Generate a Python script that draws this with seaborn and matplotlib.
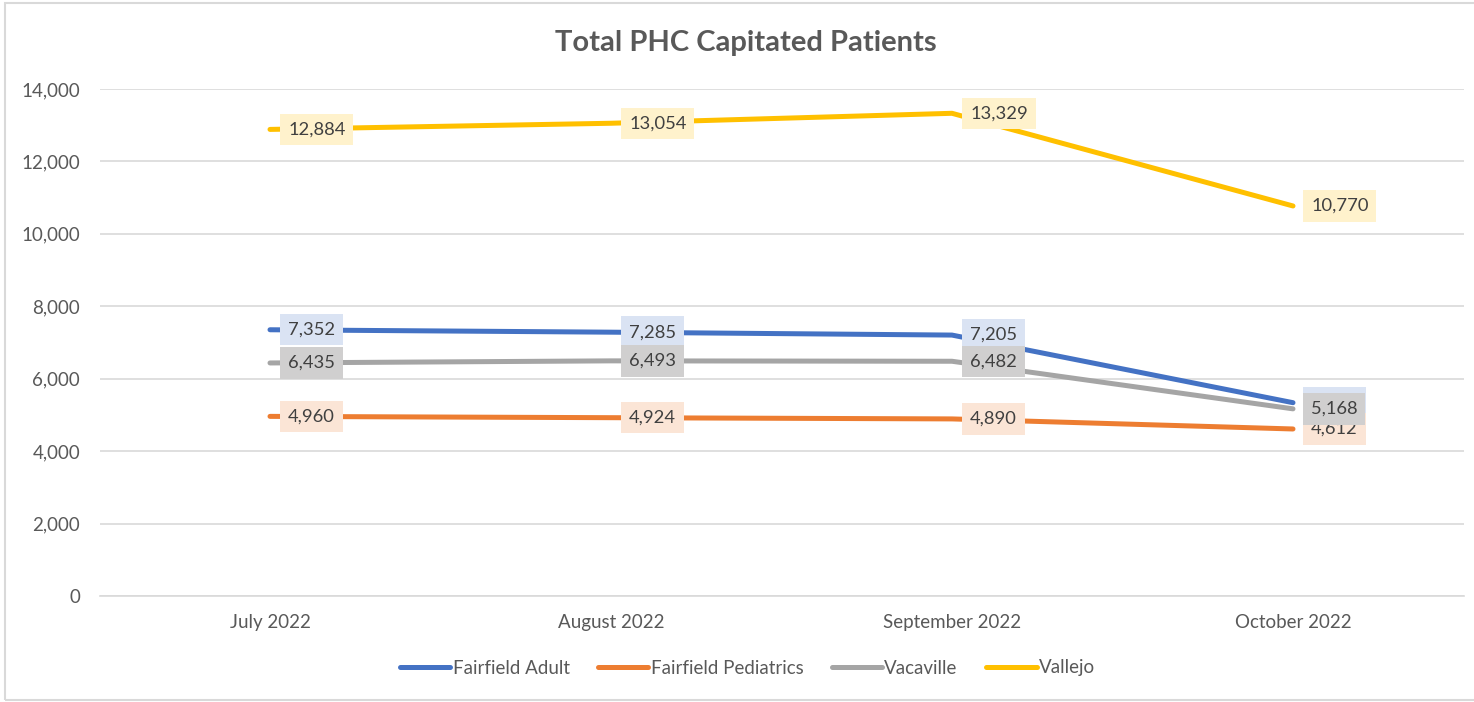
import matplotlib
matplotlib.use("Agg")
import matplotlib.pyplot as plt
import seaborn as sns
import pandas as pd
from matplotlib.patches import Rectangle
from matplotlib.ticker import FuncFormatter

# data
months = ["July 2022", "August 2022", "September 2022", "October 2022"]
fairfield_adult = [7352, 7285, 7205, 5338]
fairfield_peds = [4960, 4924, 4890, 4612]
vacaville = [6435, 6493, 6482, 5168]
vallejo = [12884, 13054, 13329, 10770]

series_names = ["Fairfield Adult", "Fairfield Pediatrics", "Vacaville", "Vallejo"]
line_colors = ["#4472C4", "#ED7D31", "#A5A5A5", "#FFC000"]
box_colors = ["#DAE3F3", "#FBE5D6", "#D0CFCF", "#FFF2CC"]

df = pd.DataFrame({
    "month": months * 4,
    "patients": fairfield_adult + fairfield_peds + vacaville + vallejo,
    "site": [s for s in series_names for _ in months],
})
df["x"] = df["month"].map({m: i for i, m in enumerate(months)})

sns.set_theme(style="white")
plt.rcParams["font.family"] = ["Lato", "DejaVu Sans"]

fig = plt.figure(figsize=(14.74, 7.02), dpi=100)
ax = fig.add_axes([99.5 / 1474, 1 - 596 / 702, 1364 / 1474, 507 / 702])

sns.lineplot(data=df, x="x", y="patients", hue="site", hue_order=series_names,
             palette=line_colors, linewidth=3.6, ax=ax, sort=False,
             solid_capstyle="round", solid_joinstyle="round")

# data labels to the right of each point, boxes stacked blue < orange < gray, vallejo apart
# (the October Fairfield Adult label sits under the Vacaville box, as in the original)
label_z = [5, 6, 7, 5]
for name, color, z in zip(series_names, box_colors, label_z):
    sub = df[df["site"] == name]
    for xv, yv in zip(sub["x"], sub["patients"]):
        ax.annotate(f"{yv:,}", (xv, yv), xytext=(13, 0), textcoords="offset points",
                    ha="left", va="center", fontsize=13.2, color="#404040", zorder=z,
                    bbox=dict(boxstyle="square,pad=0.42", fc=color, ec="none"))

ax.set_xlim(-0.5, 3.5)
ax.set_ylim(0, 14000)
ax.set_yticks(range(0, 14001, 2000))
ax.yaxis.set_major_formatter(FuncFormatter(lambda v, p: f"{int(v):,}"))
ax.set_xticks(range(len(months)))
ax.set_xticklabels(months)
ax.grid(axis="y", color="#D9D9D9", linewidth=1.2)
ax.set_axisbelow(True)
for side in ["top", "right", "left"]:
    ax.spines[side].set_visible(False)
ax.spines["bottom"].set_color("#D9D9D9")
ax.spines["bottom"].set_linewidth(1.2)
ax.tick_params(axis="both", length=0, labelsize=13.5, labelcolor="#595959")
ax.tick_params(axis="y", pad=14)
ax.tick_params(axis="x", pad=13)
ax.set_xlabel("")
ax.set_ylabel("")

fig.text(0.506, 1 - 43 / 702, "Total PHC Capitated Patients", ha="center", va="center",
         fontsize=21, fontweight="bold", color="#595959")

handles, labels = ax.get_legend_handles_labels()
ax.legend(handles, labels, loc="center", bbox_to_anchor=(0.507, 1 - 668 / 702),
          bbox_transform=fig.transFigure, ncol=4, frameon=False, fontsize=13.5,
          labelcolor="#595959", handlelength=2.7, handletextpad=0.12, columnspacing=1.5)

# light chart-area border like the original
fig.patches.append(Rectangle((5 / 1474, 2 / 702), 1.0, 1 - 5 / 702, transform=fig.transFigure,
                             fill=False, ec="#D9D9D9", lw=1.5, zorder=0))

fig.savefig("out.png", dpi=100)
